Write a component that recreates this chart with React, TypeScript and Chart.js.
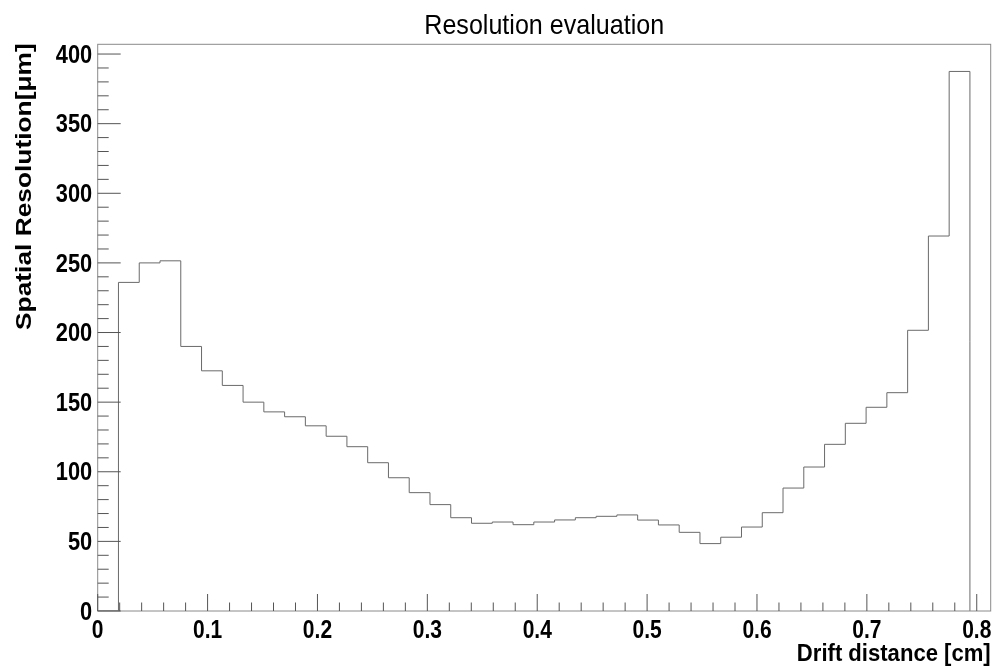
import React, { useEffect, useRef } from 'react';
import { Chart, registerables } from 'chart.js';

Chart.register(...registerables);

// Histogram binning along drift distance [cm]
const BIN_LOW = 0;
const BIN_WIDTH = 0.0189;

// Spatial resolution per drift-distance bin [µm]
const resolution = [
  0, 236, 250, 251.5, 190, 172.5, 162, 150, 143, 139.5, 133, 125.5, 118, 106.5,
  95.7, 85, 76.4, 67, 63, 63.9, 62, 63.9, 65.4, 67, 68, 69, 65.3, 61.8, 56.5,
  48.4, 53, 60.3, 70.6, 88.3, 103.4, 119.7, 134.8, 146.3, 156.8, 201.6, 269.3, 387.5,
];

const xTickValues = [0, 0.1, 0.2, 0.3, 0.4, 0.5, 0.6, 0.7, 0.8];
const xTickLabels = ['0', '0.1', '0.2', '0.3', '0.4', '0.5', '0.6', '0.7', '0.8'];
const xMinorStep = 0.02;
const yTickValues = [0, 50, 100, 150, 200, 250, 300, 350, 400];
const yTickLabels = ['0', '50', '100', '150', '200', '250', '300', '350', '400'];
const yMinorStep = 10;

const X_MAX = 0.8127;
const Y_MAX = 407;

const TITLE = 'Resolution evaluation';
const X_TITLE = 'Drift distance [cm]';
const Y_TITLE = 'Spatial Resolution[\u03bcm]';

const FONT = '"Liberation Sans", Arial, Helvetica, sans-serif';

function drawText(
  ctx: CanvasRenderingContext2D,
  text: string,
  x: number,
  y: number,
  o: { size: number; bold?: boolean; stretch: number; align: CanvasTextAlign; baseline: CanvasTextBaseline; rotate?: boolean; color?: string }
) {
  ctx.save();
  ctx.translate(x, y);
  if (o.rotate) ctx.rotate(-Math.PI / 2);
  ctx.scale(o.stretch, 1);
  ctx.font = `${o.bold ? 'bold ' : ''}${o.size}px ${FONT}`;
  ctx.textAlign = o.align;
  ctx.textBaseline = o.baseline;
  ctx.fillStyle = o.color || '#000';
  ctx.fillText(text, 0, 0);
  ctx.restore();
}

// Frame, inward ticks, tick labels and titles in the classic histogram style
const frameDecor = {
  id: 'frameDecor',
  afterDraw(chart: any) {
    const { ctx, chartArea: a } = chart;
    const xs = chart.scales.x;
    const ys = chart.scales.y;
    ctx.save();
    ctx.strokeStyle = '#8a8a8a';
    ctx.lineWidth = 1;
    ctx.strokeRect(a.left, a.top, a.right - a.left, a.bottom - a.top);

    ctx.strokeStyle = '#555';
    ctx.beginPath();
    // x ticks
    xTickValues.forEach((v) => {
      const px = xs.getPixelForValue(v);
      ctx.moveTo(px, a.bottom);
      ctx.lineTo(px, a.bottom - 17);
      for (let j = 1; j < 5; j++) {
        const mv = v + j * xMinorStep;
        if (mv > X_MAX) break;
        const mpx = xs.getPixelForValue(mv);
        ctx.moveTo(mpx, a.bottom);
        ctx.lineTo(mpx, a.bottom - 8.5);
      }
    });
    // y ticks
    yTickValues.forEach((v) => {
      const py = ys.getPixelForValue(v);
      ctx.moveTo(a.left, py);
      ctx.lineTo(a.left + 23, py);
      for (let j = 1; j < 5; j++) {
        const mv = v + j * yMinorStep;
        if (mv > Y_MAX) break;
        const mpy = ys.getPixelForValue(mv);
        ctx.moveTo(a.left, mpy);
        ctx.lineTo(a.left + 11, mpy);
      }
    });
    ctx.stroke();
    ctx.restore();

    xTickValues.forEach((v, i) => {
      drawText(ctx, xTickLabels[i], xs.getPixelForValue(v), a.bottom + 27, {
        size: 25, bold: true, stretch: 0.84, align: 'center', baseline: 'alphabetic',
      });
    });
    yTickValues.forEach((v, i) => {
      drawText(ctx, yTickLabels[i], a.left - 5.5, ys.getPixelForValue(v) + 1.5, {
        size: 26, bold: true, stretch: 0.84, align: 'right', baseline: 'middle',
      });
    });

    drawText(ctx, TITLE, (a.left + a.right) / 2, 34, {
      size: 28.5, stretch: 0.88, align: 'center', baseline: 'alphabetic',
    });
    drawText(ctx, X_TITLE, a.right, 661, {
      size: 23, bold: true, stretch: 0.96, align: 'right', baseline: 'alphabetic',
    });
    drawText(ctx, Y_TITLE, 31, a.top - 1, {
      size: 22.5, bold: true, stretch: 1.17, align: 'right', baseline: 'alphabetic', rotate: true,
    });
  },
};

export default function App() {
  const canvasRef = useRef<HTMLCanvasElement | null>(null);

  useEffect(() => {
    document.body.style.margin = '0';
    const canvas = canvasRef.current;
    if (!canvas) return;

    // step outline: one point per bin low edge, closing at the upper edge
    const points = resolution.map((v, i) => ({ x: BIN_LOW + i * BIN_WIDTH, y: v }));
    points.push({ x: BIN_LOW + resolution.length * BIN_WIDTH, y: 0 });

    const chart = new Chart(canvas, {
      type: 'line',
      data: {
        datasets: [
          {
            data: points,
            stepped: 'before',
            borderColor: '#6a6a6a',
            borderWidth: 1,
            pointRadius: 0,
            fill: false,
          },
        ],
      },
      options: {
        animation: false,
        responsive: false,
        maintainAspectRatio: false,
        devicePixelRatio: 1,
        layout: { padding: { left: 0, top: 44.3, right: 996 - 990.7, bottom: 669 - 611 } },
        plugins: { legend: { display: false }, title: { display: false }, tooltip: { enabled: false } },
        scales: {
          x: {
            type: 'linear',
            min: 0,
            max: X_MAX,
            grid: { display: false },
            border: { display: false },
            ticks: { display: false },
            afterFit: (s: any) => { s.height = 0; },
          },
          y: {
            type: 'linear',
            min: 0,
            max: Y_MAX,
            grid: { display: false },
            border: { display: false },
            ticks: { display: false },
            afterFit: (s: any) => { s.width = 97.7; },
          },
        },
      },
      plugins: [frameDecor],
    });
    return () => chart.destroy();
  }, []);

  return (
    <div style={{ position: 'fixed', left: 0, top: 0, width: 996, height: 669, background: '#fff' }}>
      <canvas ref={canvasRef} width={996} height={669} style={{ display: 'block' }} />
    </div>
  );
}
